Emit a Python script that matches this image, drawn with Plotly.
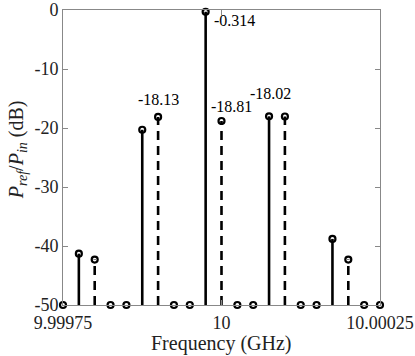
import plotly.graph_objects as go

# Częstotliwości (GHz) i poziomy (dB)
freq = [9.99975, 9.999775, 9.9998, 9.999825, 9.99985, 9.999875, 9.9999,
        9.999925, 9.99995, 9.999975, 10.0, 10.000025, 10.00005, 10.000075,
        10.0001, 10.000125, 10.00015, 10.000175, 10.0002, 10.000225, 10.00025]
p_dB = [-50, -41.3, -42.3, -50, -50, -20.3, -18.13, -50, -50, -0.314, -18.81,
        -50, -50, -18.02, -18.05, -50, -50, -38.8, -42.3, -50, -50]
# które prążki rysujemy linią przerywaną
dashed = [False, False, True, False, False, False, True, False, False, False, True,
          False, False, False, True, False, False, False, True, False, False]

lab_idx = [6, 9, 10, 13]
lab_txt = ["-18.13", "-0.314", "-18.81", "-18.02"]

y_min = -50
font = "Liberation Serif, serif"

fig = go.Figure()

for dash_flag, dash in [(False, "solid"), (True, "9px,6px")]:
    xs, ys = [], []
    for f, p, d in zip(freq, p_dB, dashed):
        if d == dash_flag and p > y_min:
            xs += [f, f, None]
            ys += [y_min, p, None]
    fig.add_trace(go.Scatter(x=xs, y=ys, mode="lines",
                             line=dict(color="black", width=2.6, dash=dash),
                             cliponaxis=False, hoverinfo="skip"))

fig.add_trace(go.Scatter(x=freq, y=p_dB, mode="markers",
                         marker=dict(symbol="circle-open", size=6, color="black",
                                     line=dict(width=2.2, color="black")),
                         cliponaxis=False))

# etykiety wartości (przesunięcie w px względem znacznika)
offsets = {6: (0, 17, "center"), 9: (6, -9, "left"), 10: (10, 14, "center"), 13: (1, 23, "center")}
for i, txt in zip(lab_idx, lab_txt):
    dx, dy, anchor = offsets[i]
    fig.add_annotation(x=freq[i], y=p_dB[i], text=txt, showarrow=False,
                       xshift=dx, yshift=dy, xanchor=anchor,
                       font=dict(family=font, size=16, color="black"))

# opisy osi
fig.add_annotation(x=0.5, y=-0.13, xref="paper", yref="paper", yanchor="middle",
                   text="Frequency (GHz)", showarrow=False,
                   font=dict(family=font, size=20, color="#222"))
fig.add_annotation(x=-0.145, y=0.525, xref="paper", yref="paper", textangle=-90,
                   xanchor="center", yanchor="middle",
                   text="<i>P<sub>ref</sub></i>/<i>P<sub>in</sub></i> (dB)", showarrow=False,
                   font=dict(family=font, size=20, color="#222"))

fig.update_xaxes(range=[9.99975, 10.00025],
                 tickvals=[9.99975, 10.0, 10.00025],
                 ticktext=["9.99975", "10", "10.00025"],
                 showline=True, linecolor="#888", linewidth=1, mirror="ticks",
                 ticks="inside", ticklen=5, tickcolor="#888", ticklabelstandoff=1,
                 showgrid=False, zeroline=False, automargin=False,
                 tickfont=dict(family=font, size=18, color="#222"))
fig.update_yaxes(range=[-50, 0],
                 tickvals=[0, -10, -20, -30, -40, -50],
                 ticktext=["0", "-10", "-20", "-30", "-40", "-50"],
                 showline=True, linecolor="#888", linewidth=1, mirror="ticks",
                 ticks="inside", ticklen=5, tickcolor="#888",
                 showgrid=False, zeroline=False, automargin=False,
                 tickfont=dict(family=font, size=18, color="#222"))

fig.update_layout(width=415, height=356, showlegend=False,
                  margin=dict(l=63, r=35, t=10, b=51),
                  plot_bgcolor="white", paper_bgcolor="white")

fig.write_html("out.html", config={"displayModeBar": False},
               post_script="document.body.style.margin='0';")
